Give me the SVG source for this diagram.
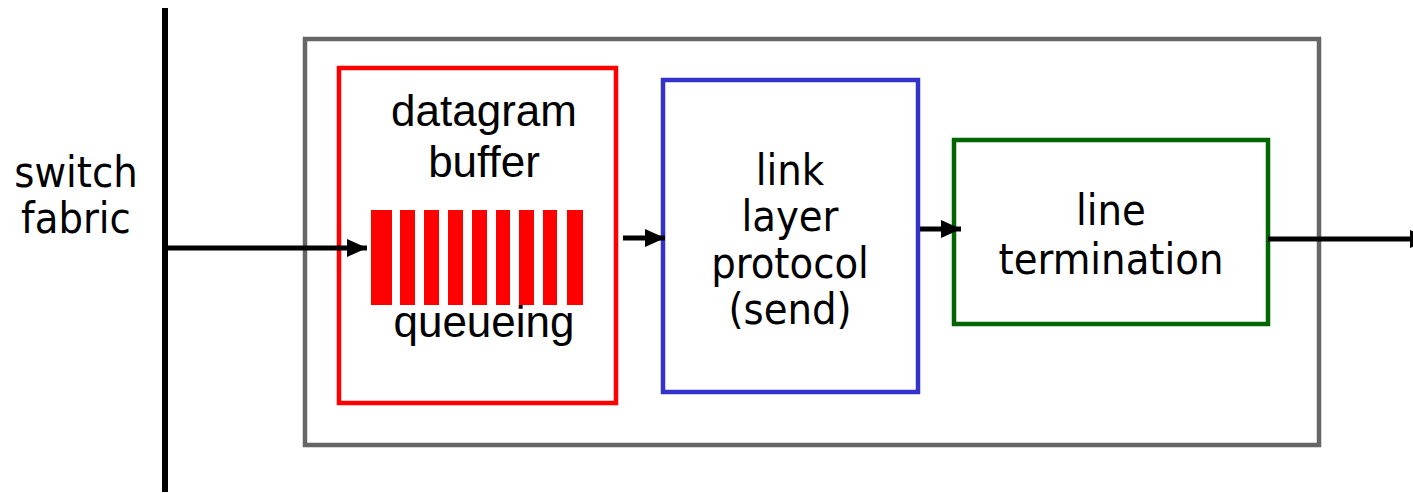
<svg xmlns="http://www.w3.org/2000/svg" width="1413" height="493" viewBox="0 0 1413 493">
<style>
.box{fill:none;stroke-width:4.5}
.t{font-family:"DejaVu Sans Condensed","DejaVu Sans",sans-serif;font-stretch:condensed;font-size:43px;fill:#000;text-anchor:middle}
.a{font-family:"Liberation Sans",Arial,sans-serif;font-size:44px;fill:#000;text-anchor:middle}
.bar{fill:#ff0000}
.ln{stroke:#000;stroke-width:5;fill:none}
</style>
<defs>
<marker id="ah" markerUnits="userSpaceOnUse" markerWidth="20" markerHeight="18" refX="20" refY="9" orient="auto">
<path d="M0,0 L20,9 L0,18 Z" fill="#000"/>
</marker>
</defs>
<rect width="1413" height="493" fill="#fff"/>
<g id="fabric">
<line x1="165" y1="8" x2="165" y2="492" stroke="#000" stroke-width="6"/>
<text class="t" x="76" y="187">switch</text>
<text class="t" x="76" y="233">fabric</text>
</g>
<g id="port">
<rect class="box" x="305" y="39" width="1014" height="406" stroke="#666"/>
</g>
<g id="buffer">
<rect class="box" x="339" y="68" width="277" height="335" stroke="#ff0000"/>
<text class="a" x="484" y="126">datagram</text>
<text class="a" x="484" y="177">buffer</text>
<rect class="bar" x="371" y="210" width="21" height="95"/>
<rect class="bar" x="400" y="210" width="15" height="95"/>
<rect class="bar" x="424" y="210" width="15" height="95"/>
<rect class="bar" x="448" y="210" width="15" height="95"/>
<rect class="bar" x="472" y="210" width="15" height="95"/>
<rect class="bar" x="496" y="210" width="14" height="95"/>
<rect class="bar" x="519" y="210" width="15" height="95"/>
<rect class="bar" x="543" y="210" width="14" height="95"/>
<rect class="bar" x="567" y="210" width="16" height="95"/>
<text class="a" x="484" y="337">queueing</text>
</g>
<g id="link">
<rect class="box" x="663" y="80" width="255" height="312" stroke="#3333cc"/>
<text class="t" x="790" y="185">link</text>
<text class="t" x="790" y="231">layer</text>
<text class="t" x="790" y="278">protocol</text>
<text class="t" x="790" y="324">(send)</text>
</g>
<g id="line">
<rect class="box" x="954" y="140" width="314" height="184" stroke="#006600"/>
<text class="t" x="1111" y="225">line</text>
<text class="t" x="1111" y="274">termination</text>
</g>
<g id="connectors">
<line class="ln" x1="165" y1="248" x2="367" y2="248" marker-end="url(#ah)"/>
<line class="ln" x1="623" y1="238" x2="665" y2="238" marker-end="url(#ah)"/>
<line class="ln" x1="920" y1="229" x2="961" y2="229" marker-end="url(#ah)"/>
<line class="ln" x1="1268" y1="239" x2="1430" y2="239" marker-end="url(#ah)"/>
</g>
</svg>
